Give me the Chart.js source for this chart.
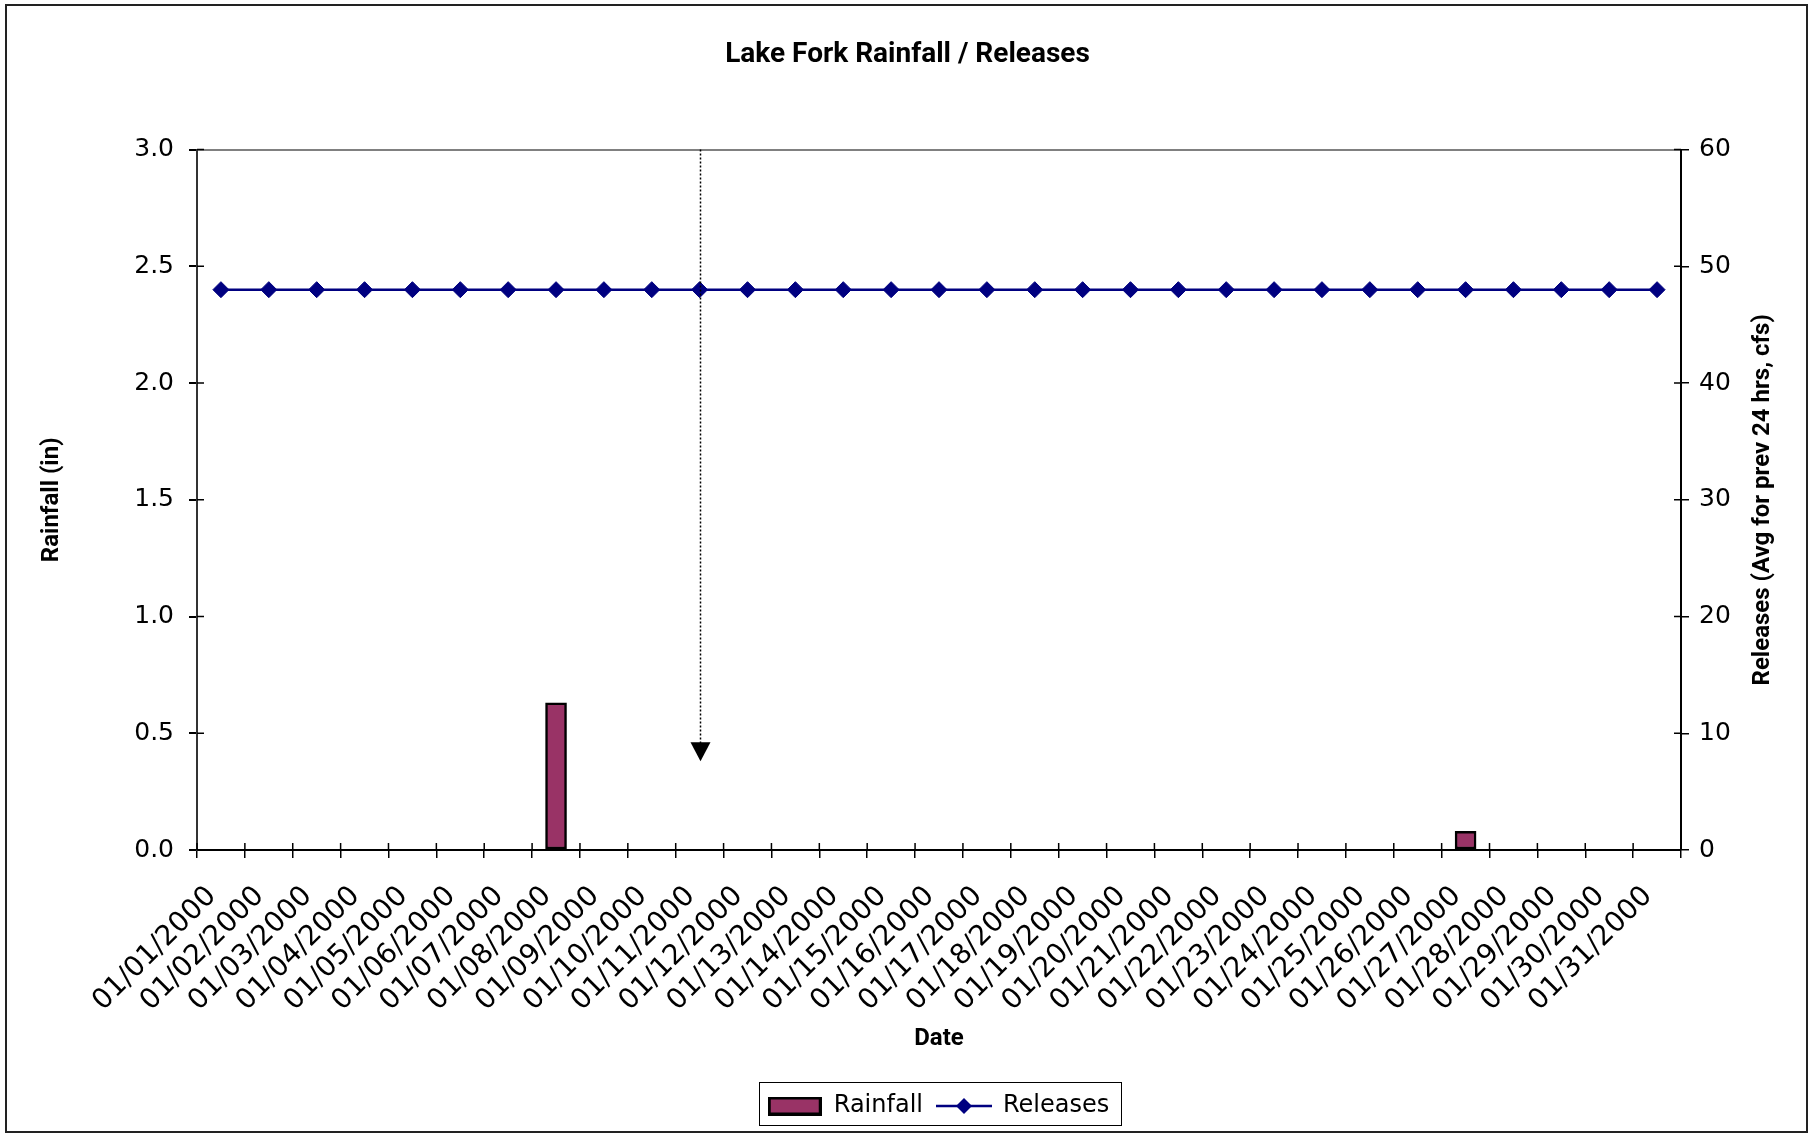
<!DOCTYPE html>
<html>
<head>
<meta charset="utf-8">
<title>Lake Fork Rainfall / Releases</title>
<script src="https://cdn.jsdelivr.net/npm/chart.js@4.4.1/dist/chart.umd.min.js"></script>
<style>
  html, body { margin: 0; padding: 0; background: #fff; }
</style>
</head>
<body>
<canvas id="chart" width="1815" height="1135"></canvas>
<script>
const dates = [
  "01/01/2000", "01/02/2000", "01/03/2000", "01/04/2000", "01/05/2000", "01/06/2000",
  "01/07/2000", "01/08/2000", "01/09/2000", "01/10/2000", "01/11/2000", "01/12/2000",
  "01/13/2000", "01/14/2000", "01/15/2000", "01/16/2000", "01/17/2000", "01/18/2000",
  "01/19/2000", "01/20/2000", "01/21/2000", "01/22/2000", "01/23/2000", "01/24/2000",
  "01/25/2000", "01/26/2000", "01/27/2000", "01/28/2000", "01/29/2000", "01/30/2000",
  "01/31/2000"
];
const rainfall = [
  0, 0, 0, 0, 0, 0, 0, 0.63, 0, 0, 0, 0, 0, 0, 0, 0,
  0, 0, 0, 0, 0, 0, 0, 0, 0, 0, 0.08, 0, 0, 0, 0
];
const releases = [
  48, 48, 48, 48, 48, 48, 48, 48, 48, 48, 48, 48, 48, 48, 48, 48,
  48, 48, 48, 48, 48, 48, 48, 48, 48, 48, 48, 48, 48, 48, 48
];
// axis ranges: [min, max, step]
const rainfallAxis = [0, 3.0, 0.5];
const releasesAxis = [0, 60, 10];
// dotted arrow note: date it points at, and rainfall value of its tip
const arrowDate = "01/11/2000";
const arrowTip = 0.38;

const rainColor = "#993366";
const releaseColor = "#000080";
const tickFont = { family: "DejaVu Sans", size: 25 };
const titleFont = { family: "Roboto", size: 24, weight: "bold" };

// legend swatches
function makeBarSwatch() {
  const c = document.createElement("canvas");
  c.width = 54; c.height = 19;
  const g = c.getContext("2d");
  g.fillStyle = "#000";
  g.fillRect(0, 0, 54, 19);
  g.fillStyle = rainColor;
  g.fillRect(3, 3, 48, 13);
  return c;
}
function makeLineSwatch() {
  const c = document.createElement("canvas");
  c.width = 56; c.height = 18;
  const g = c.getContext("2d");
  g.strokeStyle = releaseColor;
  g.lineWidth = 2.5;
  g.beginPath(); g.moveTo(0, 9); g.lineTo(56, 9); g.stroke();
  g.fillStyle = releaseColor;
  g.beginPath(); g.moveTo(28, 1); g.lineTo(36, 9); g.lineTo(28, 17); g.lineTo(20, 9); g.closePath(); g.fill();
  return c;
}
const swatches = [makeBarSwatch(), makeLineSwatch()];

const pageFrame = {
  id: "pageFrame",
  beforeDraw(chart) {
    const ctx = chart.ctx;
    ctx.save();
    ctx.fillStyle = "#fff";
    ctx.fillRect(0, 0, chart.width, chart.height);
    ctx.strokeStyle = "#222";
    ctx.lineWidth = 2;
    ctx.strokeRect(6, 5, 1801, 1127);
    ctx.restore();
  }
};

const innerTicks = {
  id: "innerTicks",
  afterDraw(chart) {
    const { ctx, chartArea, scales } = chart;
    ctx.save();
    ctx.strokeStyle = "#000";
    ctx.lineWidth = 1.5;
    ctx.beginPath();
    for (let i = 0; i <= dates.length; i++) {
      const x = scales.x.getPixelForValue(i - 0.5);
      ctx.moveTo(x, chartArea.bottom);
      ctx.lineTo(x, chartArea.bottom - 7);
    }
    scales.y.ticks.forEach(t => {
      const y = scales.y.getPixelForValue(t.value);
      ctx.moveTo(chartArea.left, y);
      ctx.lineTo(chartArea.left + 7, y);
    });
    scales.y1.ticks.forEach(t => {
      const y = scales.y1.getPixelForValue(t.value);
      ctx.moveTo(chartArea.right, y);
      ctx.lineTo(chartArea.right - 7, y);
    });
    ctx.stroke();
    ctx.restore();
  }
};

const arrowNote = {
  id: "arrowNote",
  afterDatasetsDraw(chart) {
    const { ctx, chartArea, scales } = chart;
    const x = Math.round(scales.x.getPixelForValue(dates.indexOf(arrowDate))) + 0.5;
    const tip = scales.y.getPixelForValue(arrowTip);
    ctx.save();
    ctx.strokeStyle = "#000";
    ctx.lineWidth = 1.5;
    ctx.setLineDash([2, 2]);
    ctx.beginPath();
    ctx.moveTo(x, chartArea.top);
    ctx.lineTo(x, tip - 18);
    ctx.stroke();
    ctx.setLineDash([]);
    ctx.fillStyle = "#000";
    ctx.beginPath();
    ctx.moveTo(x - 10, tip - 19);
    ctx.lineTo(x + 10, tip - 19);
    ctx.lineTo(x, tip);
    ctx.closePath();
    ctx.fill();
    ctx.restore();
  }
};

const rightTitle = {
  id: "rightTitle",
  afterDraw(chart) {
    const { ctx, chartArea } = chart;
    ctx.save();
    ctx.translate(1763, (chartArea.top + chartArea.bottom) / 2);
    ctx.rotate(-Math.PI / 2);
    ctx.font = "bold 24px Roboto";
    ctx.fillStyle = "#000";
    ctx.textAlign = "center";
    ctx.textBaseline = "middle";
    ctx.fillText("Releases (Avg for prev 24 hrs, cfs)", 0, 0);
    ctx.restore();
  }
};

const legendShift = 31;
const legendFrame = {
  id: "legendFrame",
  afterLayout(chart) {
    chart.legend.left += legendShift;
    chart.legend.right += legendShift;
  },
  afterDraw(chart) {
    const boxes = chart.legend.legendHitBoxes;
    if (!boxes || !boxes.length) return;
    const first = boxes[0];
    const last = boxes[boxes.length - 1];
    const ctx = chart.ctx;
    ctx.save();
    ctx.strokeStyle = "#000";
    ctx.lineWidth = 1;
    const l = Math.round(first.left - 9) + 0.5;
    const t = Math.round(first.top - 12) + 0.5;
    const r = Math.round(last.left + last.width + 12) + 0.5;
    const b = Math.round(first.top + first.height + 7) + 0.5;
    ctx.strokeRect(l, t, r - l, b - t);
    ctx.restore();
  }
};

const ctx = document.getElementById("chart").getContext("2d");
new Chart(ctx, {
  type: "bar",
  data: {
    labels: dates,
    datasets: [
      {
        label: "Rainfall",
        data: rainfall,
        yAxisID: "y",
        backgroundColor: rainColor,
        borderColor: "#000",
        borderWidth: 2.5,
        borderSkipped: false,
        barThickness: 21
      },
      {
        type: "line",
        label: "Releases",
        data: releases,
        yAxisID: "y1",
        borderColor: releaseColor,
        borderWidth: 2.5,
        backgroundColor: releaseColor,
        pointStyle: "rectRot",
        pointRadius: 8,
        pointHoverRadius: 8,
        pointBackgroundColor: releaseColor,
        pointBorderColor: releaseColor,
        pointBorderWidth: 1,
        tension: 0
      }
    ]
  },
  options: {
    responsive: false,
    animation: false,
    layout: { padding: { left: 0, right: 0, top: 0, bottom: 7 } },
    plugins: {
      title: {
        display: true,
        text: "Lake Fork Rainfall / Releases",
        color: "#000",
        font: { family: "Roboto", size: 28, weight: "bold" },
        padding: { top: 38, bottom: 78 }
      },
      legend: {
        position: "bottom",
        labels: {
          color: "#000",
          font: { family: "DejaVu Sans", size: 24 },
          usePointStyle: true,
          pointStyleWidth: 54,
          padding: 14,
          generateLabels: (chart) => {
            const items = Chart.defaults.plugins.legend.labels.generateLabels(chart);
            return items.map(it => Object.assign(it, { pointStyle: swatches[it.datasetIndex] }));
          }
        }
      },
      tooltip: { enabled: false }
    },
    scales: {
      x: {
        offset: true,
        grid: { offset: true, drawOnChartArea: false, color: "#000", tickLength: 8, lineWidth: 1.5 },
        border: { color: "#000", width: 2 },
        ticks: {
          autoSkip: false,
          minRotation: 45,
          maxRotation: 45,
          padding: 22,
          labelOffset: -9,
          color: "#000",
          font: { family: "DejaVu Sans", size: 28 }
        },
        title: {
          display: true,
          text: "Date",
          color: "#000",
          font: titleFont,
          padding: { top: 0, bottom: 27 }
        },
        afterFit: (scale) => { scale.height = 230; }
      },
      y: {
        position: "left",
        min: rainfallAxis[0],
        max: rainfallAxis[1],
        grid: {
          drawOnChartArea: true,
          color: (c) => (c.tick && c.tick.value === rainfallAxis[1] ? "#808080" : "rgba(0,0,0,0)"),
          lineWidth: 2,
          tickColor: "#000",
          tickLength: 8
        },
        border: { color: "#333", width: 2 },
        ticks: {
          stepSize: rainfallAxis[2],
          padding: 15,
          color: "#000",
          font: tickFont,
          callback: (v) => Number(v).toFixed(1)
        },
        title: {
          display: true,
          text: "Rainfall (in)",
          color: "#000",
          font: titleFont,
          padding: { top: 38, bottom: 0 }
        },
        afterFit: (scale) => { scale.width = 197; }
      },
      y1: {
        position: "right",
        min: releasesAxis[0],
        max: releasesAxis[1],
        grid: { drawOnChartArea: false, color: "#000", tickLength: 8, lineWidth: 1.5 },
        border: { color: "#000", width: 2 },
        ticks: {
          stepSize: releasesAxis[2],
          padding: 10,
          color: "#000",
          font: tickFont
        },
        afterFit: (scale) => { scale.width = 134; }
      }
    }
  },
  plugins: [pageFrame, arrowNote, innerTicks, rightTitle, legendFrame]
});
</script>
</body>
</html>
